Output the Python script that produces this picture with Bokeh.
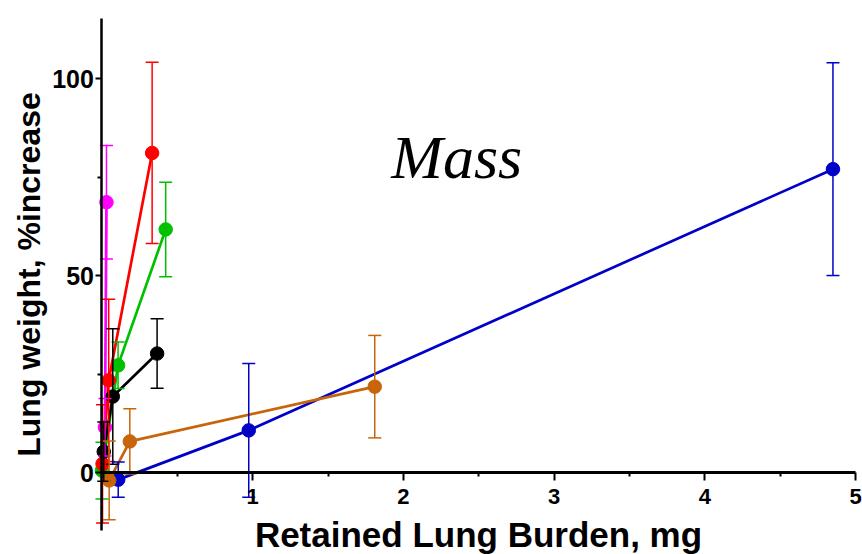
from bokeh.plotting import figure
from bokeh.models import Whisker, TeeHead, ColumnDataSource, FixedTicker, Label, Range1d
from bokeh.embed import file_html
from bokeh.resources import INLINE

# Retained lung burden (mg) vs. lung weight increase (%), mean +/- error per group
blue_x = [0.108, 0.974, 4.85]
blue_y = [-1.8, 10.7, 77.0]
blue_err = [4.5, 17.0, 27.0]

brown_x = [0.048, 0.185, 1.81]
brown_y = [-2.0, 7.9, 21.8]
brown_err = [10.0, 8.3, 13.0]

black_x = [0.012, 0.072, 0.366]
black_y = [5.3, 19.3, 30.2]
black_err = [7.5, 17.2, 8.8]

red_x = [0.004, 0.045, 0.333]
red_y = [2.2, 23.4, 81.1]
red_err = [15.0, 20.6, 23.0]

green_x = [0.0, 0.107, 0.423]
green_y = [0.5, 27.2, 61.7]
green_err = [7.2, 5.9, 12.0]

magenta_x = [0.02, 0.03]
magenta_y = [11.5, 68.6]
magenta_err = [7.3, 14.4]

x_ticks = [1, 2, 3, 4, 5]
x_minor = [0.5, 1.5, 2.5, 3.5, 4.5]
y_ticks = [0, 50, 100]
y_minor = [25, 75]

series = [
    (magenta_x, magenta_y, magenta_err, "#FF00FF"),
    (green_x, green_y, green_err, "#00C000"),
    (red_x, red_y, red_err, "#FF0000"),
    (black_x, black_y, black_err, "#000000"),
    (blue_x, blue_y, blue_err, "#0000C8"),
    (brown_x, brown_y, brown_err, "#C8640A"),
]

# The frame fills the whole canvas; the axes cross at the origin inside it.
p = figure(width=862, height=554, output_backend="svg", toolbar_location=None,
           x_range=Range1d(-0.673, 5.046), y_range=Range1d(-20.8, 119.8),
           min_border=0)
p.title.visible = False
p.outline_line_color = None
p.grid.visible = False
p.background_fill_color = "white"
p.border_fill_color = "white"

for xs, ys, errs, color in series:
    src = ColumnDataSource(dict(
        x=xs, y=ys,
        upper=[v + e for v, e in zip(ys, errs)],
        lower=[v - e for v, e in zip(ys, errs)],
    ))
    w = Whisker(source=src, base="x", upper="upper", lower="lower",
                line_color=color, line_width=1.5, level="glyph",
                upper_head=TeeHead(size=13, line_color=color, line_width=1.5),
                lower_head=TeeHead(size=13, line_color=color, line_width=1.5))
    p.add_layout(w)
    p.line("x", "y", source=src, line_color=color, line_width=2.7)
    p.scatter("x", "y", source=src, marker="circle", size=13.5,
              fill_color=color, line_color=color)

xa = p.xaxis[0]
xa.fixed_location = 0
xa.bounds = (0, 5)
xa.ticker = FixedTicker(ticks=x_ticks, minor_ticks=x_minor)
xa.axis_line_width = 3
xa.axis_line_color = "black"
xa.major_tick_line_width = 2
xa.minor_tick_line_width = 2
xa.major_tick_out = 8
xa.major_tick_in = 0
xa.minor_tick_out = 4
xa.minor_tick_in = 0
xa.major_label_text_font = "Liberation Sans"
xa.major_label_text_font_style = "bold"
xa.major_label_text_font_size = "22px"
xa.major_label_text_color = "black"
xa.major_label_standoff = 8
xa.axis_label = "Retained Lung Burden, mg"
xa.axis_label_text_font = "Liberation Sans"
xa.axis_label_text_font_style = "bold"
xa.axis_label_text_font_size = "35px"
xa.axis_label_text_color = "black"
xa.axis_label_standoff = 8

ya = p.yaxis[0]
ya.fixed_location = 0
ya.bounds = (-14.7, 115.2)
ya.ticker = FixedTicker(ticks=y_ticks, minor_ticks=y_minor)
ya.axis_line_width = 2.5
ya.axis_line_color = "black"
ya.major_tick_line_width = 2
ya.minor_tick_line_width = 2
ya.major_tick_out = 6
ya.major_tick_in = 0
ya.minor_tick_out = 4
ya.minor_tick_in = 0
ya.major_label_text_font = "Liberation Sans"
ya.major_label_text_font_style = "bold"
ya.major_label_text_font_size = "25px"
ya.major_label_text_color = "black"
ya.major_label_standoff = 2
ya.axis_label = "Lung weight, %increase"
ya.axis_label_text_font = "Liberation Sans"
ya.axis_label_text_font_style = "bold"
ya.axis_label_text_font_size = "32px"
ya.axis_label_text_color = "black"
ya.axis_label_standoff = 2

p.add_layout(Label(x=1.92, y=80, text="Mass", text_font="Liberation Serif",
                   text_font_style="italic", text_font_size="62px",
                   text_color="black", text_baseline="alphabetic"))

open("out.html", "w").write(file_html(p, INLINE))
